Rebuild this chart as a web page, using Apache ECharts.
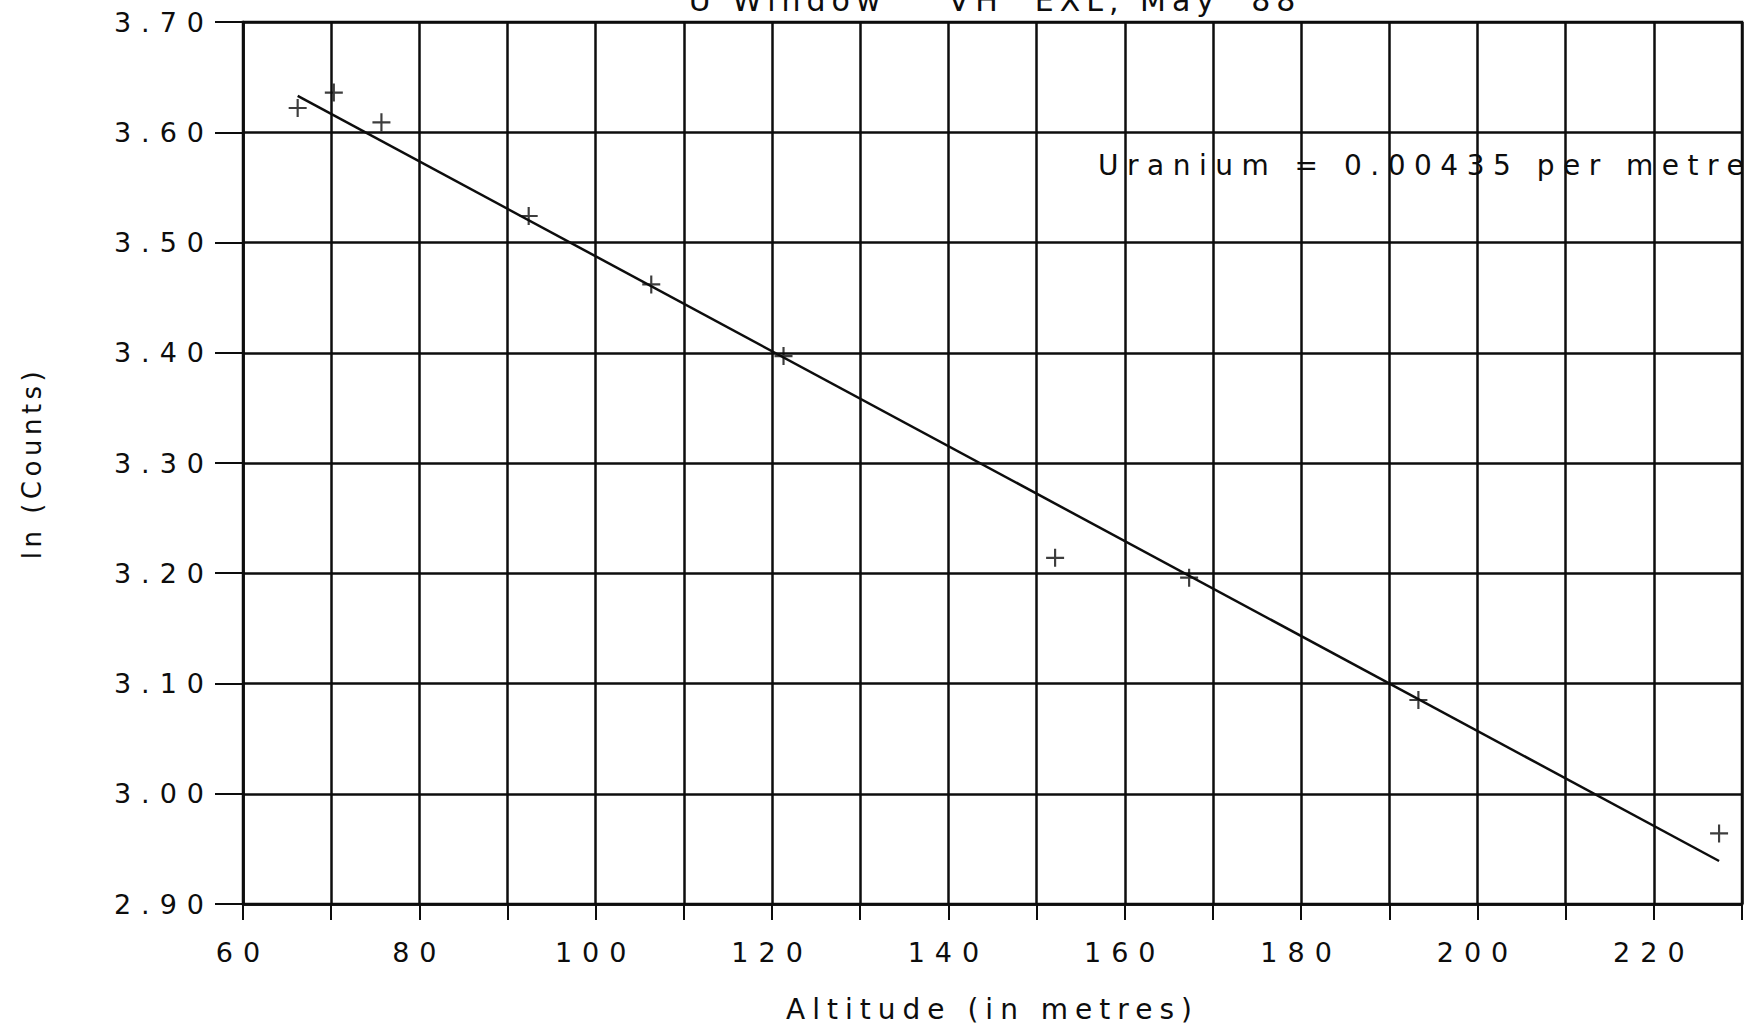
<!DOCTYPE html>
<html>
<head>
<meta charset="utf-8">
<title>U Window - ln(Counts) vs Altitude</title>
<style>
    html, body{
        margin: 0;
        padding: 0;
        background: #ffffff;
    }
    #chart{
        width: 1754px;
        height: 1033px;
    }
</style>
<script src="https://cdn.jsdelivr.net/npm/echarts@6/dist/echarts.min.js"></script>
</head>
<body>
<div id="chart"></div>
<script type="text/javascript">
    // measured points (altitude in metres, ln of counts)
    var altitude = [66.2, 70.3, 75.7, 92.4, 106.3, 121.3, 152.1, 167.3, 193.3, 227.4];
    var lnCounts = [3.622, 3.636, 3.609, 3.524, 3.462, 3.397, 3.214, 3.196, 3.085, 2.964];

    // fitted line, end points
    var fitAltitude = [66.2, 227.4];
    var fitLnCounts = [3.633, 2.939];

    var titleText = 'U Window    VH  EXL, May  88';
    var noteText = 'Uranium = 0.00435 per metre';
    var xName = 'Altitude (in metres)';
    var yName = 'ln (Counts)';

    var pointData = [];
    for (var i = 0; i < altitude.length; i++) {
        pointData.push([altitude[i], lnCounts[i]]);
    }
    var fitData = [];
    for (var j = 0; j < fitAltitude.length; j++) {
        fitData.push([fitAltitude[j], fitLnCounts[j]]);
    }

    var ink = '#0d0d0d';
    var font = 'DejaVu Sans';

    var chart = echarts.init(document.getElementById('chart'), null, {renderer: 'svg'});

    var option = {
        backgroundColor: '#ffffff',
        animation: false,
        grid: {
            left: 243,
            right: 12,
            top: 22,
            bottom: 129,
            show: true,
            borderColor: ink,
            borderWidth: 2.5
        },
        graphic: [
            {
                type: 'text',
                x: 995,
                y: 15,
                style: {
                    text: titleText,
                    fill: ink,
                    font: '30px "DejaVu Sans"',
                    textAlign: 'center',
                    textVerticalAlign: 'bottom'
                }
            },
            {
                type: 'text',
                x: 1098,
                y: 165,
                style: {
                    text: noteText,
                    fill: ink,
                    font: '28px "DejaVu Sans"',
                    textAlign: 'left',
                    textVerticalAlign: 'middle'
                }
            }
        ],
        xAxis: {
            type: 'value',
            min: 60,
            max: 230,
            interval: 10,
            name: xName,
            nameLocation: 'middle',
            nameGap: 91,
            nameTextStyle: {color: ink, fontFamily: font, fontSize: 28},
            axisLine: {show: true, lineStyle: {color: ink, width: 2.5}},
            axisTick: {show: true, inside: false, length: 16, lineStyle: {color: ink, width: 2}},
            axisLabel: {
                color: ink,
                fontFamily: font,
                fontSize: 27,
                margin: 35,
                formatter: function (v) {
                    return v % 20 === 0 ? String(v) : '';
                }
            },
            splitLine: {show: true, lineStyle: {color: ink, width: 2.5}}
        },
        yAxis: {
            type: 'value',
            min: 2.9,
            max: 3.7,
            interval: 0.1,
            name: yName,
            nameLocation: 'middle',
            nameRotate: 90,
            nameGap: 198,
            nameTextStyle: {color: ink, fontFamily: font, fontSize: 26},
            axisLine: {show: true, lineStyle: {color: ink, width: 2.5}},
            axisTick: {show: true, inside: false, length: 28, lineStyle: {color: ink, width: 2}},
            axisLabel: {
                color: ink,
                fontFamily: font,
                fontSize: 27,
                margin: 29,
                formatter: function (v) {
                    return v.toFixed(2);
                }
            },
            splitLine: {show: true, lineStyle: {color: ink, width: 2.5}}
        },
        series: [
            {
                name: 'fit',
                type: 'line',
                data: fitData,
                showSymbol: false,
                lineStyle: {color: ink, width: 2.5},
                z: 3
            },
            {
                name: 'counts',
                type: 'scatter',
                data: pointData,
                symbol: 'path://M8.8,0h2.4v20h-2.4z M0,8.8h20v2.4h-20z',
                symbolSize: 18,
                itemStyle: {color: ink},
                z: 4
            }
        ]
    };

    // the plotter font is much wider than anything installed, so space the letters out
    var spacing = {};
    spacing[titleText] = 6;
    spacing[noteText] = 8.5;
    spacing[xName] = 7;
    spacing[yName] = 4.5;

    chart.on('finished', function () {
        var texts = document.querySelectorAll('#chart svg text');
        for (var k = 0; k < texts.length; k++) {
            var t = texts[k].textContent;
            var s = spacing[t] !== undefined ? spacing[t] : (/^[0-9.]+$/.test(t) ? 10 : 0);
            texts[k].style.letterSpacing = s + 'px';
        }
    });

    chart.setOption(option);
</script>
</body>
</html>
